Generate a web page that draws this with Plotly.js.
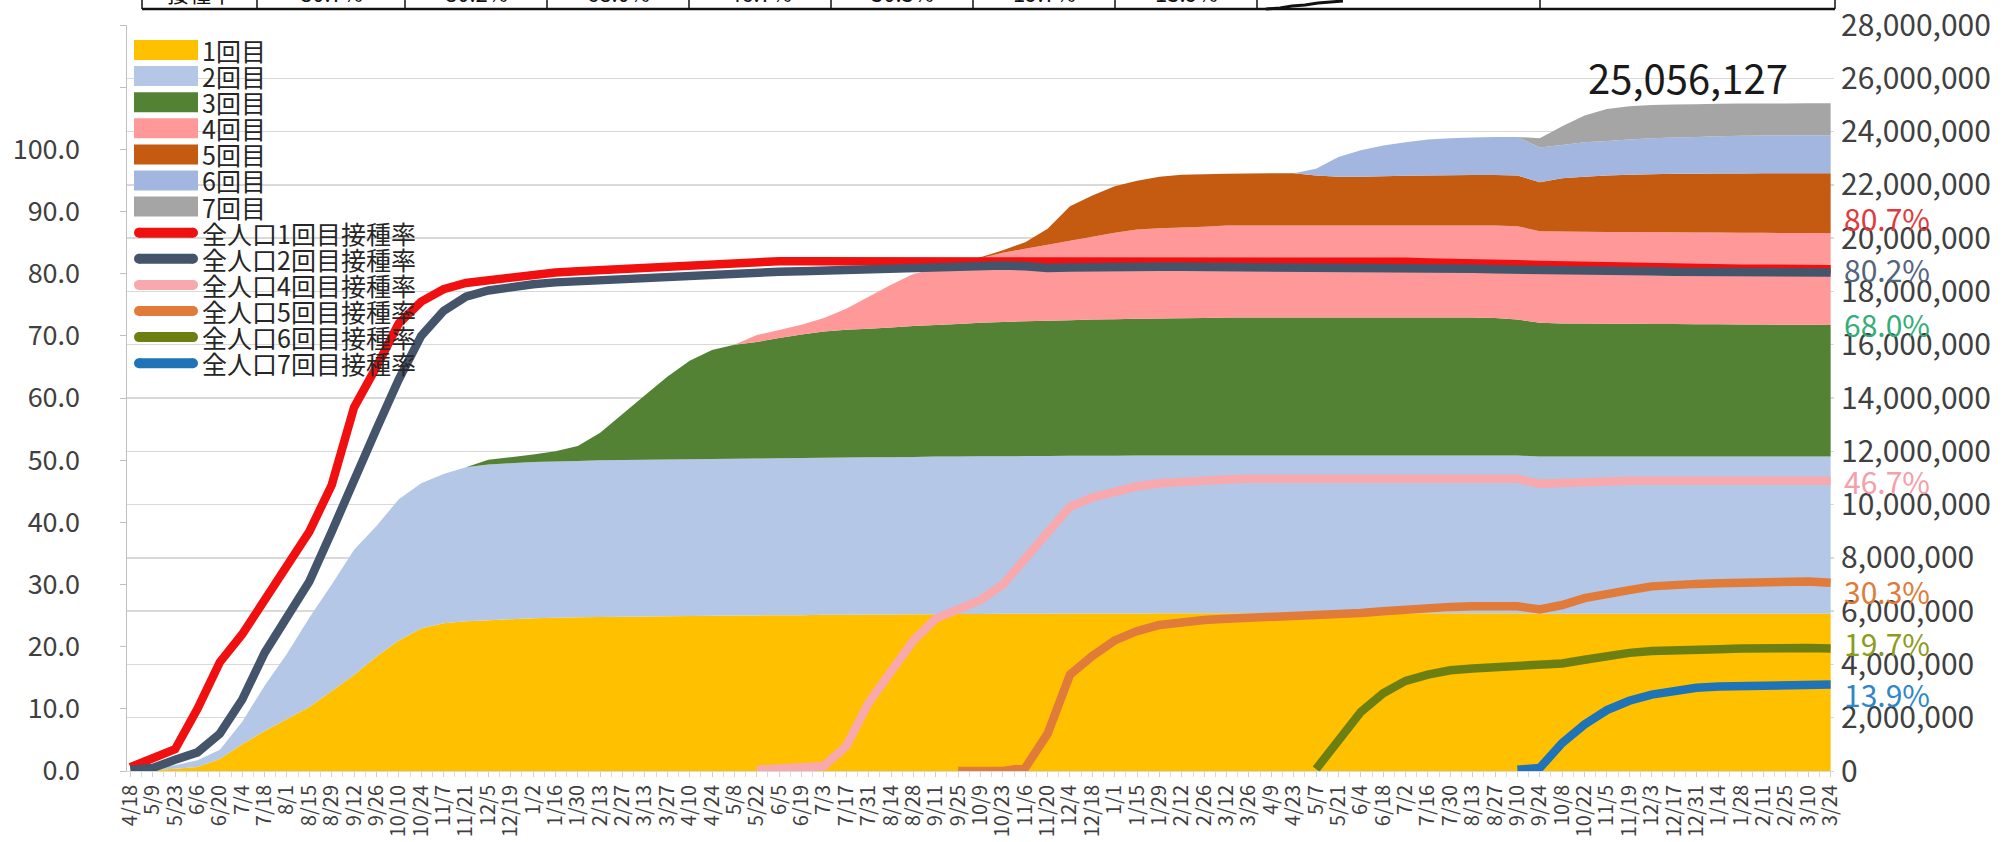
<!DOCTYPE html>
<html><head><meta charset="utf-8">
<script src="https://cdn.plot.ly/plotly-3.0.1.min.js"></script>
<style>html,body{margin:0;padding:0;background:#fff;overflow:hidden}#chart{width:2015px;height:842px}</style>
</head><body><div id="chart"></div>
<script>
// ---------- data ----------
const labels = ['4/18','5/9','5/23','6/6','6/20','7/4','7/18','8/1','8/15','8/29','9/12','9/26','10/10','10/24','11/7','11/21','12/5','12/19','1/2','1/16','1/30','2/13','2/27','3/13','3/27','4/10','4/24','5/8','5/22','6/5','6/19','7/3','7/17','7/31','8/14','8/28','9/11','9/25','10/9','10/23','11/6','11/20','12/4','12/18','1/1','1/15','1/29','2/12','2/26','3/12','3/26','4/9','4/23','5/7','5/21','6/4','6/18','7/2','7/16','7/30','8/13','8/27','9/10','9/24','10/8','10/22','11/5','11/19','12/3','12/17','12/31','1/14','1/28','2/11','2/25','3/10','3/24'];

const doseNames = ['1回目','2回目','3回目','4回目','5回目','6回目','7回目'];
const rateNames = ['全人口1回目接種率','全人口2回目接種率','全人口4回目接種率','全人口5回目接種率','全人口6回目接種率','全人口7回目接種率'];

// cumulative persons per dose, in millions
const dose1 = [0.02,0.04,0.08,0.15,0.45,1.00,1.50,1.95,2.40,3.00,
  3.60,4.30,4.90,5.35,5.55,5.62,5.66,5.70,5.73,5.75,
  5.77,5.78,5.79,5.80,5.81,5.82,5.83,5.84,5.84,5.85,
  5.85,5.86,5.86,5.87,5.87,5.88,5.88,5.89,5.89,5.90,
  5.90,5.90,5.91,5.91,5.91,5.91,5.92,5.92,5.92,5.92,
  5.92,5.92,5.92,5.92,5.92,5.92,5.92,5.92,5.92,5.92,
  5.92,5.92,5.92,5.90,5.90,5.90,5.90,5.90,5.90,5.90,
  5.90,5.90,5.90,5.90,5.90,5.90,5.90];
const dose2 = [0.03,0.06,0.14,0.25,0.35,0.85,1.70,2.45,3.35,4.00,
  4.70,4.90,5.30,5.45,5.60,5.78,5.84,5.85,5.87,5.87,
  5.87,5.88,5.88,5.88,5.88,5.88,5.88,5.88,5.89,5.89,
  5.90,5.90,5.91,5.91,5.91,5.91,5.92,5.91,5.92,5.91,
  5.92,5.92,5.92,5.92,5.92,5.93,5.92,5.92,5.92,5.92,
  5.92,5.92,5.92,5.92,5.92,5.92,5.92,5.92,5.92,5.92,
  5.92,5.92,5.92,5.90,5.90,5.90,5.90,5.90,5.90,5.90,
  5.90,5.90,5.90,5.90,5.90,5.90,5.90];
const dose3 = [0,0,0,0,0,0,0,0,0,0,
  0,0,0,0,0,0,0.18,0.23,0.28,0.38,
  0.56,1.04,1.73,2.42,3.11,3.70,4.09,4.28,4.37,4.51,
  4.63,4.74,4.79,4.82,4.87,4.91,4.94,4.98,5.01,5.04,
  5.06,5.08,5.09,5.12,5.13,5.13,5.14,5.15,5.16,5.18,
  5.18,5.18,5.18,5.18,5.18,5.18,5.18,5.18,5.18,5.18,
  5.18,5.16,5.11,5.02,5.00,5.00,4.99,4.99,4.98,4.98,
  4.97,4.97,4.96,4.96,4.95,4.95,4.94];
const dose4 = [0,0,0,0,0,0,0,0,0,0,
  0,0,0,0,0,0,0,0,0,0,
  0,0,0,0,0,0,0,0,0.26,0.30,
  0.37,0.50,0.79,1.20,1.60,1.95,2.11,2.27,2.43,2.60,
  2.72,2.85,2.98,3.10,3.24,3.35,3.39,3.41,3.43,3.45,
  3.45,3.45,3.45,3.45,3.45,3.45,3.45,3.45,3.45,3.45,
  3.45,3.47,3.50,3.44,3.45,3.44,3.44,3.44,3.44,3.44,
  3.44,3.44,3.44,3.44,3.44,3.44,3.44];
const dose5 = [0,0,0,0,0,0,0,0,0,0,
  0,0,0,0,0,0,0,0,0,0,
  0,0,0,0,0,0,0,0,0,0,
  0,0,0,0,0,0,0,0,0.03,0.10,
  0.25,0.60,1.30,1.55,1.75,1.83,1.93,1.98,1.97,1.95,
  1.96,1.97,1.97,1.88,1.83,1.83,1.85,1.87,1.88,1.89,
  1.90,1.90,1.90,1.84,2.00,2.06,2.12,2.15,2.18,2.20,
  2.21,2.22,2.23,2.24,2.25,2.25,2.26];
const dose6 = [0,0,0,0,0,0,0,0,0,0,
  0,0,0,0,0,0,0,0,0,0,
  0,0,0,0,0,0,0,0,0,0,
  0,0,0,0,0,0,0,0,0,0,
  0,0,0,0,0,0,0,0,0,0,
  0,0,0,0.25,0.75,1.00,1.16,1.26,1.35,1.39,
  1.41,1.43,1.45,1.30,1.25,1.30,1.30,1.32,1.35,1.36,
  1.38,1.39,1.41,1.41,1.42,1.42,1.42];
const dose7 = [0,0,0,0,0,0,0,0,0,0,
  0,0,0,0,0,0,0,0,0,0,
  0,0,0,0,0,0,0,0,0,0,
  0,0,0,0,0,0,0,0,0,0,
  0,0,0,0,0,0,0,0,0,0,
  0,0,0,0,0,0,0,0,0,0,
  0,0,0,0.35,0.70,1.00,1.20,1.25,1.25,1.24,
  1.23,1.22,1.21,1.20,1.19,1.20,1.20];

// vaccination rate of whole population (%)
const rate1 = [0.6,2.0,3.5,10.0,17.5,22.0,27.5,33.0,38.5,46.0,
  58.5,65.0,72.0,75.5,77.5,78.5,79.0,79.5,80.0,80.2,
  80.4,80.6,80.8,81.0,81.2,81.5,81.6,81.7,81.8,82.0,
  82.0,82.0,82.1,82.1,82.1,82.1,82.1,82.2,82.2,82.2,
  82.2,82.2,82.2,82.2,82.2,82.2,82.2,82.2,82.2,82.2,
  82.2,82.1,82.1,82.0,82.0,82.0,81.9,81.9,81.8,81.8,
  81.7,81.6,81.5,81.4,81.3,81.2,81.1,81.0,81.0,80.9,
  80.9,80.8,80.8,80.8,80.7,80.7,80.7];
const rate2 = [0.2,0.5,1.8,3.0,6.0,11.5,19.0,24.5,30.5,38.5,
  47.0,55.0,63.0,70.0,74.0,76.3,77.3,77.9,78.3,78.6,
  78.8,79.0,79.1,79.3,79.5,79.8,80.0,80.1,80.2,80.3,
  80.4,80.5,80.6,80.7,80.8,81.0,81.2,81.3,81.3,81.3,
  81.2,80.9,81.0,81.1,81.1,81.1,81.1,81.1,81.1,81.1,
  81.1,81.1,81.1,81.1,81.1,81.1,81.1,80.9,80.9,80.8,
  80.8,80.7,80.7,80.6,80.5,80.5,80.4,80.4,80.4,80.3,
  80.3,80.3,80.3,80.2,80.2,80.2,80.2];
const rate4 = [null,null,null,null,null,null,null,null,null,null,
  null,null,null,null,null,null,null,null,null,null,
  null,null,null,null,null,null,null,null,0.2,0.3,
  0.4,0.8,4.0,11.0,16.0,21.0,24.5,26.0,27.5,30.0,
  34.0,38.5,42.5,44.0,45.0,45.8,46.3,46.6,46.8,46.9,
  47.0,47.0,47.0,47.0,47.0,47.0,47.0,47.0,47.0,47.0,
  47.0,47.0,47.0,46.2,46.4,46.5,46.6,46.7,46.7,46.7,
  46.7,46.7,46.7,46.7,46.7,46.7,46.7];
const rate5 = [null,null,null,null,null,null,null,null,null,null,
  null,null,null,null,null,null,null,null,null,null,
  null,null,null,null,null,null,null,null,null,null,
  null,null,null,null,null,null,null,0.0,0.0,0.0,
  0.5,6.0,15.5,18.5,21.0,22.5,23.5,24.0,24.3,24.5,
  24.6,24.7,24.8,24.9,25.1,25.4,25.7,26.0,26.2,26.4,
  26.5,26.6,26.5,26.0,26.7,27.8,28.6,29.1,29.7,30.0,
  30.1,30.2,30.3,30.4,30.5,30.5,30.3];
const rate6 = [null,null,null,null,null,null,null,null,null,null,
  null,null,null,null,null,null,null,null,null,null,
  null,null,null,null,null,null,null,null,null,null,
  null,null,null,null,null,null,null,null,null,null,
  null,null,null,null,null,null,null,null,null,null,
  null,null,null,0.3,5.0,9.5,12.5,14.5,15.5,16.2,
  16.5,16.7,16.8,16.9,17.3,17.9,18.5,19.0,19.3,19.5,
  19.6,19.6,19.7,19.8,19.8,19.8,19.7];
const rate7 = [null,null,null,null,null,null,null,null,null,null,
  null,null,null,null,null,null,null,null,null,null,
  null,null,null,null,null,null,null,null,null,null,
  null,null,null,null,null,null,null,null,null,null,
  null,null,null,null,null,null,null,null,null,null,
  null,null,null,null,null,null,null,null,null,null,
  null,null,0.2,0.5,4.5,7.5,9.8,11.3,12.3,13.0,
  13.4,13.6,13.7,13.8,13.9,13.9,13.9];

const totalDoses = '25,056,127';
const latestRates = ['80.7%','80.2%','68.0%','46.7%','30.3%','19.7%','13.9%'];
const tableRowTitle = '接種率';
const leftTicks = [0,10,20,30,40,50,60,70,80,90,100,110,120];

// ---------- styling ----------
const FONT = '"Noto Sans CJK JP","Noto Sans",sans-serif';
const doseColors = ['#FFC000','#B4C7E7','#548235','#FF9999','#C55A11','#A3B6E0','#A5A5A5'];
const rateColors = ['#F01010','#44546A','#F7A9AE','#E07B39','#6E7F12','#1F74B8'];
const labelColors = ['#E03A3E','#54647C','#34AE78','#F4A0A8','#E07B39','#8C9C1C','#2D87C8'];
const labelY = [218, 269, 324, 481, 591, 643, 694];

const L = 127, R = 1834, T = 25, B = 771, W = R - L, H = B - T;
const px = v => (v - L) / W;
const py = v => (B - v) / H;

const xs = labels.map((_, i) => i);
const doses = [dose1, dose2, dose3, dose4, dose5, dose6, dose7];
const rates = [rate1, rate2, rate4, rate5, rate6, rate7];

const traces = [];
doses.forEach((d, k) => {
  traces.push({
    type: 'scatter', mode: 'none', x: xs, y: d.map(v => v * 1e6),
    name: doseNames[k], stackgroup: 'doses', fillcolor: doseColors[k],
    line: {width: 0}, xaxis: 'x', yaxis: 'y', hoverinfo: 'skip'
  });
});
rates.forEach((r, k) => {
  traces.push({
    type: 'scatter', mode: 'lines', x: xs, y: r, name: rateNames[k],
    line: {color: rateColors[k], width: 8.5}, connectgaps: false,
    xaxis: 'x', yaxis: 'y2', hoverinfo: 'skip'
  });
});

const shapes = [];
const annotations = [];

// custom legend
const legendItems = doseNames.map((n, k) => ({n, c: doseColors[k], box: true}))
  .concat(rateNames.map((n, k) => ({n, c: rateColors[k], box: false})));
legendItems.forEach((it, i) => {
  const yc = 50 + i * 26.1;
  if (it.box) {
    shapes.push({type: 'rect', xref: 'paper', yref: 'paper', x0: px(134), x1: px(198),
      y0: py(yc + 10), y1: py(yc - 10), fillcolor: it.c, line: {width: 0}});
  } else {
    shapes.push({type: 'line', xref: 'paper', yref: 'paper', x0: px(139), x1: px(193),
      y0: py(yc), y1: py(yc), line: {color: it.c, width: 10}});
    [139, 193].forEach(cx => shapes.push({type: 'circle', xref: 'paper', yref: 'paper',
      x0: px(cx - 5), x1: px(cx + 5), y0: py(yc + 5), y1: py(yc - 5),
      fillcolor: it.c, line: {width: 0}}));
  }
  annotations.push({xref: 'paper', yref: 'paper', x: px(200), y: py(yc), xanchor: 'left',
    yanchor: 'middle', text: it.n, showarrow: false,
    font: {family: FONT, size: 25, color: '#262626'}});
});

// total label
annotations.push({xref: 'paper', yref: 'paper', x: px(1688), y: py(77), xanchor: 'center',
  yanchor: 'middle', text: totalDoses, showarrow: false,
  font: {family: FONT, size: 40, color: '#1a1a1a'}});

// latest-rate labels on the right
latestRates.forEach((t, k) => {
  annotations.push({xref: 'paper', yref: 'paper', x: px(1842), y: py(labelY[k]), xanchor: 'left',
    yanchor: 'middle', text: t, showarrow: false,
    font: {family: FONT, size: 30, color: labelColors[k]}});
});

// partially visible table at the very top
const tableEdges = [142, 257, 405, 547, 689, 831, 973, 1115, 1257, 1540, 1835];
shapes.push({type: 'line', xref: 'paper', yref: 'paper', x0: px(142), x1: px(1835),
  y0: py(9), y1: py(9), line: {color: '#111', width: 2.5}});
tableEdges.forEach(e => shapes.push({type: 'line', xref: 'paper', yref: 'paper',
  x0: px(e), x1: px(e), y0: py(-5), y1: py(9), line: {color: '#111', width: 1.5}}));
const tableCells = [tableRowTitle].concat(latestRates);
tableCells.forEach((t, k) => {
  annotations.push({xref: 'paper', yref: 'paper', x: px((tableEdges[k] + tableEdges[k + 1]) / 2),
    y: py(10), xanchor: 'center', yanchor: 'bottom', text: t, showarrow: false,
    font: {family: FONT, size: 22, color: '#111'}});
});
shapes.push({type: 'path', xref: 'paper', yref: 'paper',
  path: `M${px(1266)},${py(9)} L${px(1280)},${py(8)} L${px(1292)},${py(6)} L${px(1305)},${py(5)} L${px(1318)},${py(3)} L${px(1343)},${py(1)}`,
  line: {color: '#111', width: 3}});

const layout = {
  width: 2015, height: 842,
  margin: {l: L, r: 2015 - R, t: T, b: 842 - B, pad: 0},
  paper_bgcolor: '#ffffff', plot_bgcolor: '#ffffff',
  font: {family: FONT, color: '#404040'},
  showlegend: false,
  xaxis: {
    range: [-0.15, 76.15], tickmode: 'array', tickvals: xs, ticktext: labels,
    tickangle: -90, tickfont: {family: FONT, size: 20, color: '#404040'},
    ticks: 'outside', ticklen: 5, tickcolor: '#d0d0d0',
    minor: {tickmode: 'linear', tick0: 0, dtick: 0.5, ticks: 'outside', ticklen: 5, tickcolor: '#d9d9d9', showgrid: false},
    showgrid: false, zeroline: false, showline: true, linecolor: '#d9d9d9', fixedrange: true
  },
  yaxis: {
    side: 'right', range: [0, 28e6], dtick: 2e6, tick0: 0, tickformat: ',d',
    tickfont: {family: FONT, size: 30, color: '#404040'},
    showgrid: true, gridcolor: '#d9d9d9', gridwidth: 1.5,
    zeroline: false, showline: false, ticks: '', ticklabelstandoff: 6, fixedrange: true
  },
  yaxis2: {
    overlaying: 'y', side: 'left', range: [0, 120], tickmode: 'array',
    tickvals: leftTicks, ticktext: leftTicks.map(v => v <= 100 ? v.toFixed(1) : ''),
    tickfont: {family: FONT, size: 27, color: '#404040'},
    showgrid: false, zeroline: false, showline: true, linecolor: '#bfbfbf', linewidth: 1.5,
    ticks: 'outside', ticklen: 6, tickcolor: '#bfbfbf', ticklabelstandoff: 34, fixedrange: true
  },
  shapes, annotations
};

Plotly.newPlot('chart', traces, layout, {displayModeBar: false, staticPlot: true});
</script>
</body></html>
